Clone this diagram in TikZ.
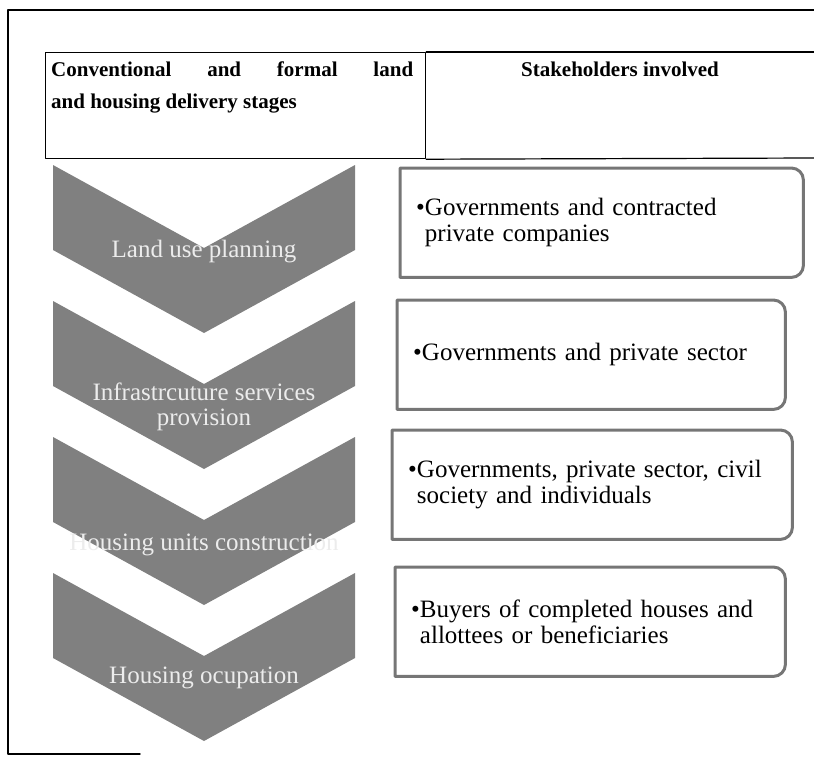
\documentclass[tikz,border=0pt]{standalone}
\usepackage{fontspec}
\setmainfont{Liberation Serif}
\definecolor{chevgray}{RGB}{128,128,128}
\definecolor{framegray}{RGB}{118,118,118}
\definecolor{chevtext}{RGB}{236,236,236}
\begin{document}
\begin{tikzpicture}[x=1pt, y=-1pt, line join=round, line cap=round]
			\tikzset{chevron/.style={fill=chevgray, draw=none},
				chevlabel/.style={text=chevtext, font=\fontsize{25}{26}\selectfont, align=center, inner sep=0pt},
				headtxt/.style={font=\fontsize{21}{32}\selectfont\bfseries, inner sep=0pt},
				stake/.style={anchor=north west, minimum height=109, inner xsep=16pt, inner ysep=0pt, align=left, font=\fontsize{25}{26}\selectfont},
				stakeline/.style={draw=framegray, line width=3pt}
			}
			\useasboundingbox (0,0) rectangle (814,756);
			% outer frame
			\draw[line width=1.4pt] (814,10)--(8,10)--(8,754)--(140,754);
			% header row
			\node[draw, line width=1.2pt, anchor=north west, minimum width=380, minimum height=106, inner sep=0pt] (hcell) at (45,52) {};
			\draw[line width=1.2pt] (hcell.north east)--(814,52);
			\draw[line width=1.2pt] (hcell.south east)--(814,158);
			\node[headtxt, text width=362, align=justify, anchor=base west] (hleft) at (51,76) {Conventional\hfill and\hfill formal\hfill land\\and housing delivery stages};
			\node[headtxt, anchor=base] (hright) at (620,76) {Stakeholders involved};
			% chevrons
			\foreach \t in {165,301,437,573} \fill[chevron] (53,\t)--(204,\t+83)--(355,\t)--(355,\t+85)--(204,\t+168)--(53,\t+85)--cycle;
			\node[chevlabel, anchor=base] (c1) at (204,257) {Land use planning};
			\node[chevlabel, anchor=base] (c2) at (204,400) {Infrastrcuture services};
			\node[chevlabel, anchor=base] (c2b) at (204,425) {provision};
			\node[chevlabel, anchor=base] (c3) at (204,550) {Housing units construction};
			\node[chevlabel, anchor=base] (c4) at (204,683) {Housing ocupation};
			% stakeholder boxes
			\node[stake, minimum width=403, text width=371] (s1) at (400,168) {\textbullet Governments and contracted\\\phantom{\textbullet}private companies};
			\node[stake, minimum width=388, text width=356] (s2) at (397,300) {\textbullet Governments and private sector};
			\node[stake, minimum width=400, text width=368] (s3) at (392,430) {\textbullet Governments, private sector, civil\\\phantom{\textbullet}society and individuals};
			\node[stake, minimum width=390, text width=358] (s4) at (395,567) {\textbullet Buyers of completed houses and\\\phantom{\textbullet}allottees or beneficiaries};
			\foreach \s in {s1,s2,s3,s4} \draw[stakeline] (\s.south west)--(\s.north west)--([xshift=-12pt]\s.north east) arc[start angle=90, end angle=0, radius=12pt]--([yshift=12pt]\s.south east) arc[start angle=0, end angle=-90, radius=12pt]--cycle;
			
		\end{tikzpicture}
\end{document}
